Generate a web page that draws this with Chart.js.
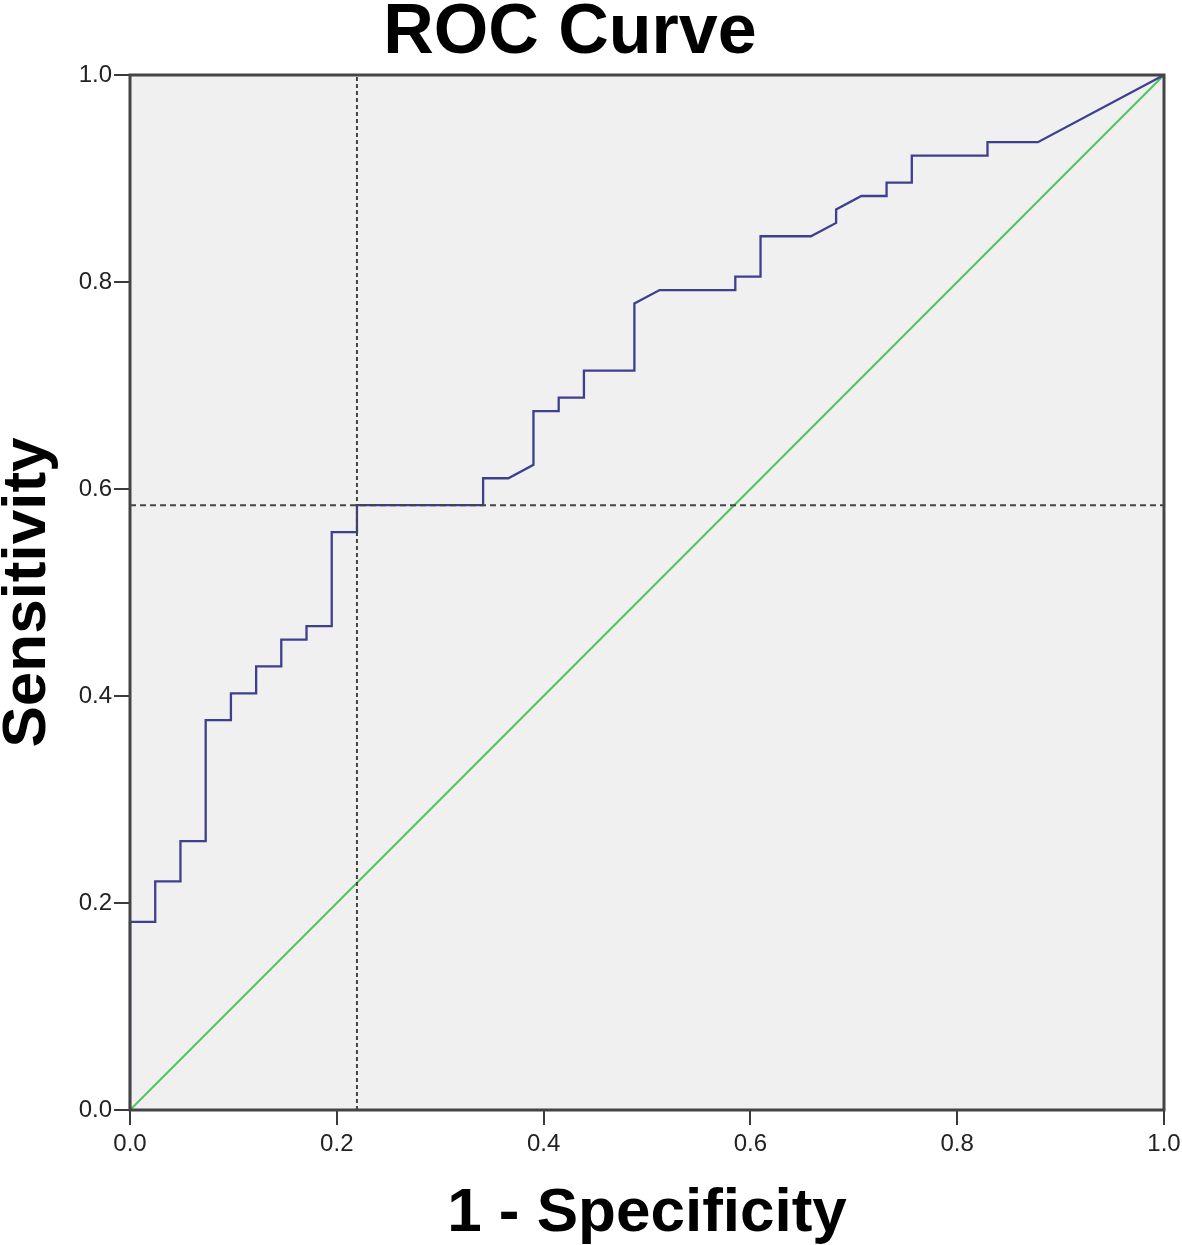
<!DOCTYPE html>
<html>
<head>
<meta charset="utf-8">
<script src="https://cdn.jsdelivr.net/npm/chart.js@4.4.1/dist/chart.umd.min.js"></script>
<style>
  html, body { margin: 0; padding: 0; background: #ffffff; }
  #wrap { width: 1182px; height: 1245px; }
</style>
</head>
<body>
<div id="wrap"><canvas id="roc"></canvas></div>
<script>
// ROC curve points (1 - specificity, sensitivity)
const fprValues = [0, 0, 0.0244, 0.0244, 0.0488, 0.0488, 0.0732, 0.0732, 0.0976, 0.0976,
  0.1220, 0.1220, 0.1463, 0.1463, 0.1707, 0.1707, 0.1951, 0.1951, 0.2195, 0.2195,
  0.3415, 0.3415, 0.3659, 0.3902, 0.3902, 0.4146, 0.4146, 0.4390, 0.4390, 0.4878,
  0.4878, 0.5122, 0.5854, 0.5854, 0.6098, 0.6098, 0.6585, 0.6829, 0.6829, 0.7073,
  0.7317, 0.7317, 0.7561, 0.7561, 0.8293, 0.8293, 0.8780, 1.0];
const sensValues = [0, 0.1818, 0.1818, 0.2208, 0.2208, 0.2597, 0.2597, 0.3766, 0.3766, 0.4026,
  0.4026, 0.4286, 0.4286, 0.4545, 0.4545, 0.4675, 0.4675, 0.5584, 0.5584, 0.5844,
  0.5844, 0.6104, 0.6104, 0.6234, 0.6753, 0.6753, 0.6883, 0.6883, 0.7143, 0.7143,
  0.7792, 0.7922, 0.7922, 0.8052, 0.8052, 0.8442, 0.8442, 0.8571, 0.8701, 0.8831,
  0.8831, 0.8961, 0.8961, 0.9221, 0.9221, 0.9351, 0.9351, 1.0];

// reference diagonal
const diagX = [0, 1];
const diagY = [0, 1];

// chosen cut-off
const cutFpr = 0.2195;
const cutSens = 0.5844;

// tick labels
const tickValues = [0, 0.2, 0.4, 0.6, 0.8, 1.0];

const chartTitle = "ROC Curve";

Chart.defaults.font.family = "'Liberation Sans', Arial, sans-serif";
Chart.defaults.color = "#222";

function toPoints(xs, ys) {
  return xs.map((x, i) => ({ x: x, y: ys[i] }));
}

// grey plot background, frame and the title
const plotFrame = {
  id: "plotFrame",
  beforeDraw(chart) {
    const a = chart.chartArea;
    const ctx = chart.ctx;
    ctx.save();
    ctx.fillStyle = "#f0f0f0";
    ctx.fillRect(a.left, a.top, a.right - a.left, a.bottom - a.top);
    ctx.restore();
  },
  afterDraw(chart) {
    const a = chart.chartArea;
    const ctx = chart.ctx;
    ctx.save();
    ctx.strokeStyle = "#444";
    ctx.lineWidth = 3;
    ctx.strokeRect(a.left, a.top, a.right - a.left, a.bottom - a.top);

    ctx.fillStyle = "#000";
    ctx.font = "bold 70px 'Liberation Sans', Arial, sans-serif";
    ctx.textAlign = "center";
    ctx.textBaseline = "alphabetic";
    ctx.fillText(chartTitle, 570, 53);
    ctx.restore();
  }
};

const ctx = document.getElementById("roc").getContext("2d");

const rocChart = new Chart(ctx, {
  type: "scatter",
  data: {
    datasets: [
      {
        label: "cutoff x",
        data: [{ x: cutFpr, y: 0 }, { x: cutFpr, y: 1 }],
        showLine: true,
        borderColor: "#454545",
        borderWidth: 2,
        borderDash: [4, 3],
        pointRadius: 0,
        order: 0
      },
      {
        label: "cutoff y",
        data: [{ x: 0, y: cutSens }, { x: 1, y: cutSens }],
        showLine: true,
        borderColor: "#454545",
        borderWidth: 2,
        borderDash: [6, 4],
        pointRadius: 0,
        order: 0
      },
      {
        label: "ROC",
        data: toPoints(fprValues, sensValues),
        showLine: true,
        borderColor: "#3f3f8f",
        borderWidth: 2.3,
        pointRadius: 0,
        tension: 0,
        order: 1,
        clip: 3
      },
      {
        label: "Reference",
        data: toPoints(diagX, diagY),
        showLine: true,
        borderColor: "#52c45c",
        borderWidth: 2,
        pointRadius: 0,
        order: 2,
        clip: 3
      }
    ]
  },
  options: {
    responsive: true,
    maintainAspectRatio: false,
    animation: false,
    layout: { padding: { left: 0, right: 18, top: 75, bottom: 0 } },
    plugins: {
      legend: { display: false },
      tooltip: { enabled: false },
      title: { display: false }
    },
    scales: {
      x: {
        type: "linear",
        min: 0,
        max: 1,
        afterBuildTicks(scale) {
          scale.ticks = tickValues.map(v => ({ value: v }));
        },
        afterFit(scale) {
          scale.height = 135;
          scale.paddingLeft = 0;
          scale.paddingRight = 0;
        },
        ticks: {
          callback: v => v.toFixed(1),
          font: { size: 24 },
          padding: 5,
          maxRotation: 0
        },
        grid: {
          drawOnChartArea: false,
          drawTicks: true,
          tickLength: 15,
          color: "#3a3a3a",
          lineWidth: 2
        },
        border: { color: "#444", width: 2 },
        title: {
          display: true,
          text: "1 - Specificity",
          color: "#000",
          font: { size: 62, weight: "bold", lineHeight: 1 },
          padding: { top: 0, bottom: 0 }
        }
      },
      y: {
        type: "linear",
        min: 0,
        max: 1,
        afterBuildTicks(scale) {
          scale.ticks = tickValues.map(v => ({ value: v }));
        },
        afterFit(scale) {
          scale.width = 130;
          scale.paddingTop = 0;
          scale.paddingBottom = 0;
        },
        ticks: {
          callback: v => v.toFixed(1),
          font: { size: 24 },
          padding: 2
        },
        grid: {
          drawOnChartArea: false,
          drawTicks: true,
          tickLength: 16,
          color: "#3a3a3a",
          lineWidth: 2
        },
        border: { color: "#444", width: 2 },
        title: {
          display: true,
          text: "Sensitivity",
          color: "#000",
          font: { size: 62, weight: "bold", lineHeight: 0.9 },
          padding: { top: 0, bottom: 0 }
        }
      }
    }
  },
  plugins: [plotFrame]
});
</script>
</body>
</html>
